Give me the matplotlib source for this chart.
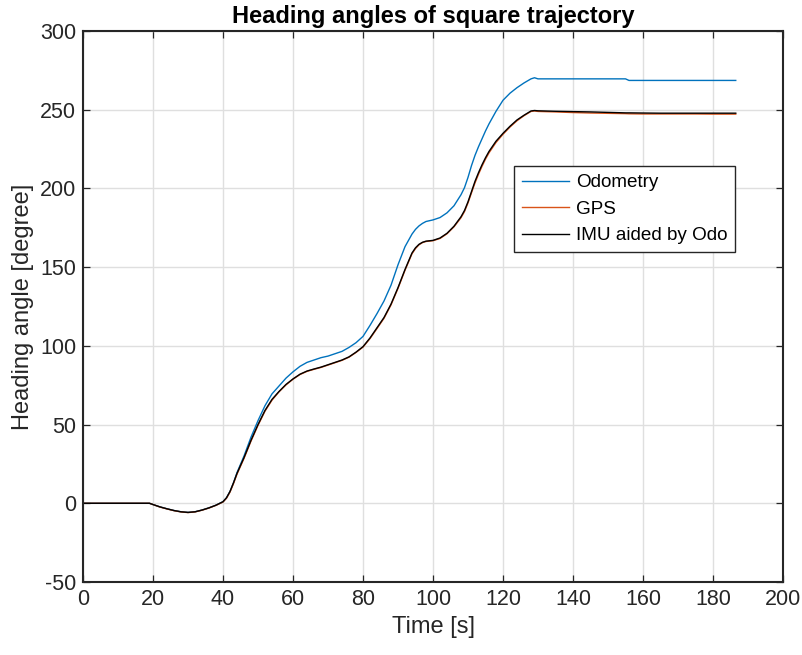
import matplotlib
matplotlib.use("Agg")
import matplotlib.pyplot as plt

plt.rcParams['font.family'] = ['Liberation Sans', 'DejaVu Sans']
plt.rcParams['axes.unicode_minus'] = False

time_s = [0, 19, 20, 22, 24, 26, 28, 30, 32, 34, 36, 38, 40,
          41, 42, 43, 44, 46, 48, 50, 52, 54, 56, 58,
          60, 62, 64, 66, 68, 70, 72, 74, 76, 78, 80, 82, 84, 86, 88, 90, 92, 94,
          95, 96, 97, 98, 100, 102, 104, 106, 108, 109, 110, 111, 112, 113, 114, 115, 116,
          118, 120, 122, 124, 126, 128, 129, 130, 135, 140, 145, 150, 155, 156, 160, 165,
          170, 175, 180, 186.5]

odometry = [0, 0, -0.8, -2.3, -3.5, -4.6, -5.4, -5.8, -5.4, -4.3, -2.9, -1.2, 1,
            3.5, 7.5, 13, 19.5, 30, 42, 52.5, 62, 69.5, 74.5, 79.5,
            83.5, 87, 89.5, 91, 92.5, 93.5, 95, 96.5, 99, 102, 106, 113, 120.5, 128.5,
            138.5, 151.5, 163, 171,
            174, 176.2, 177.8, 179, 180, 181.5, 184.5, 189, 196, 200.5, 207, 214.5, 221,
            226.5, 231.5, 236.5, 241,
            249, 256, 260.5, 264, 267, 269.6, 270.3, 269.6, 269.6, 269.6, 269.6, 269.6,
            269.6, 268.6, 268.6, 268.6, 268.6, 268.6, 268.6, 268.6]

gps = [0, 0, -0.8, -2.4, -3.6, -4.7, -5.5, -5.9, -5.5, -4.4, -3.0, -1.3, 0.8,
       3.2, 7.1, 12.5, 18.5, 28.5, 39.5, 49.5, 58.5, 65.5, 70.8, 75.2,
       78.8, 81.8, 83.8, 85.1, 86.3, 87.8, 89.3, 90.8, 92.8, 95.8, 99.2, 104.6, 111,
       117.5, 126, 136.5, 148, 158.5,
       161.8, 164.2, 165.6, 166.3, 166.8, 168.2, 171.2, 175.6, 181.4, 185.3, 190.8,
       197.2, 203.5, 209, 214, 218.6, 222.6,
       229.2, 234.4, 239, 243, 246.2, 248.9, 249.2, 248.9, 248.6, 248.2, 247.9, 247.7,
       247.5, 247.4, 247.3, 247.3, 247.3, 247.3, 247.2, 247.2]

imu_odo = [0, 0, -0.8, -2.3, -3.5, -4.6, -5.4, -5.8, -5.4, -4.3, -2.9, -1.2, 1,
           3.5, 7.5, 13, 19, 29, 40, 50, 59, 66, 71, 75.5,
           79, 82, 84, 85.3, 86.5, 88, 89.5, 91, 93, 96, 99.5, 105, 111.5, 118, 126.5,
           137, 148.5, 159,
           162.3, 164.5, 165.8, 166.5, 167, 168.5, 171.5, 176, 182, 186, 191.5, 198,
           204.5, 210, 215, 219.5, 223.5,
           230, 235, 239.5, 243.5, 246.5, 249.2, 249.5, 249.3, 249, 248.8, 248.6, 248.3,
           248, 248, 247.9, 247.8, 247.8, 247.8, 247.8, 247.8]

assert len(time_s) == len(odometry) == len(gps) == len(imu_odo)

series_labels = ['Odometry', 'GPS', 'IMU aided by Odo']
x_ticks = [0, 20, 40, 60, 80, 100, 120, 140, 160, 180, 200]
y_ticks = [-50, 0, 50, 100, 150, 200, 250, 300]

fig = plt.figure(figsize=(8.02, 6.55), dpi=100)
ax = fig.add_axes([83/802, 73/655, 700/802, 551/655])

ax.plot(time_s, odometry, color='#0072BD', lw=1.0, label=series_labels[0])
ax.plot(time_s, gps, color='#D95319', lw=1.0, label=series_labels[1])
ax.plot(time_s, imu_odo, color='black', lw=1.0, label=series_labels[2])

ax.set_xlim(0, 200)
ax.set_ylim(-50, 300)
ax.set_xticks(x_ticks)
ax.set_yticks(y_ticks)
ax.grid(True, color='#dfdfdf', lw=1.0)
ax.set_axisbelow(True)
ax.tick_params(direction='in', length=5, width=0.9, top=True, right=True,
               labelsize=15.5, colors='#262626', pad=5)
for s in ax.spines.values():
    s.set_color('#262626')
    s.set_linewidth(1.5)

ax.set_title('Heading angles of square trajectory', fontsize=17, fontweight='bold', pad=6)
ax.set_xlabel('Time [s]', fontsize=17, color='#262626', labelpad=4)
ax.set_ylabel('Heading angle [degree]', fontsize=17, color='#262626', labelpad=4)

leg = ax.legend(loc='upper left', bbox_to_anchor=(0.616, 0.755), fontsize=13.6,
                fancybox=False, edgecolor='#262626', framealpha=1,
                handlelength=2.5, handletextpad=0.35, labelspacing=0.5,
                borderaxespad=0, borderpad=0.42)
leg.get_frame().set_linewidth(1.0)

fig.savefig('out.png', dpi=100)
